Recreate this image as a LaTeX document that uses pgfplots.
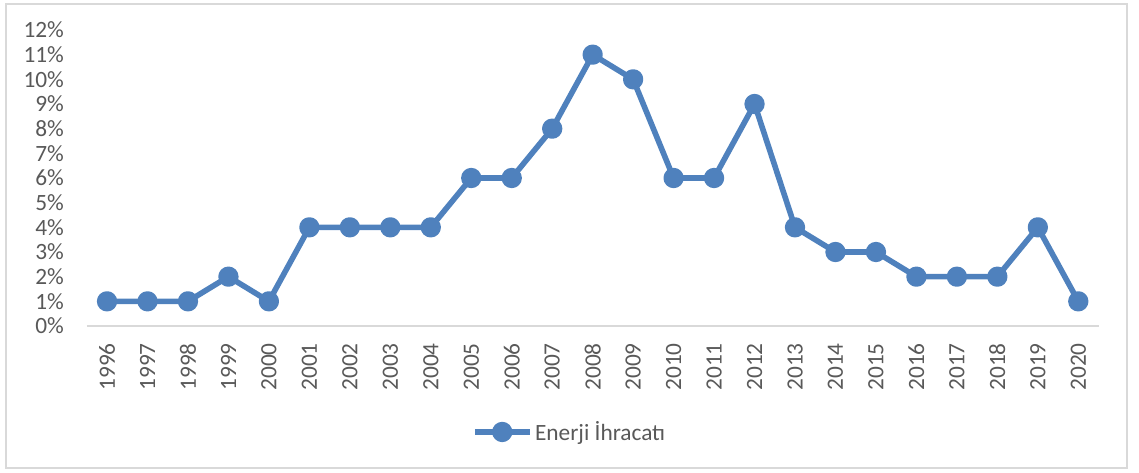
\documentclass[border=0pt]{standalone}
\usepackage{fontspec}
\setmainfont{Carlito}
\usepackage{pgfplots}
\pgfplotsset{compat=1.18}
\definecolor{txt}{HTML}{595959}
\definecolor{ser}{HTML}{4F81BD}
\definecolor{frm}{HTML}{D9D9D9}
\begin{document}
\begin{tikzpicture}
\useasboundingbox (0pt,0pt) rectangle (854.25pt,354pt);
\draw[frm, line width=1.1pt] (4.5pt,3pt) rectangle (845.25pt,351pt);
\begin{axis}[
  at={(65.1pt,109.5pt)}, anchor=south west,
  scale only axis, width=758.8pt, height=222pt,
  xmin=-0.5, xmax=24.5, ymin=0, ymax=12,
  clip=false,
  xtick={0,...,24},
  xticklabels={1996,1997,1998,1999,2000,2001,2002,2003,2004,2005,2006,2007,2008,2009,2010,2011,2012,2013,2014,2015,2016,2017,2018,2019,2020},
  ytick={0,...,12},
  yticklabels={0\%,1\%,2\%,3\%,4\%,5\%,6\%,7\%,8\%,9\%,10\%,11\%,12\%},
  axis x line*=bottom, axis y line*=left,
  y axis line style={draw=none},
  x axis line style={frm, line width=1.1pt, -},
  major tick length=0pt, tick style={draw=none},
  yticklabel style={font=\fontsize{17.5}{20}\selectfont, text=txt, anchor=east, inner sep=0pt},
  yticklabel shift=17pt,
  xticklabel style={font=\fontsize{17.5}{20}\selectfont, text=txt, rotate=90, anchor=east, inner sep=0pt},
  xticklabel shift=12.75pt,
  legend style={at={(0.4776,-0.358)}, anchor=center, draw=none, fill=none,
    font=\fontsize{17.5}{20}\selectfont, text=txt, inner sep=0pt,
    nodes={inner xsep=2pt}},
  legend image code/.code={\draw[mark repeat=2,mark phase=2,#1] plot coordinates {(0pt,0pt) (20.5pt,0pt) (41pt,0pt)};},
]
\addplot[ser, line width=4.2pt, line join=round, mark=*, mark size=5.5pt,
  mark options={solid, fill=ser, draw=none}]
coordinates {(0,1) (1,1) (2,1) (3,2) (4,1) (5,4) (6,4) (7,4) (8,4) (9,6) (10,6) (11,8) (12,11) (13,10) (14,6) (15,6) (16,9) (17,4) (18,3) (19,3) (20,2) (21,2) (22,2) (23,4) (24,1)};
\addlegendentry{Enerji İhracatı}
\end{axis}
\end{tikzpicture}
\end{document}
